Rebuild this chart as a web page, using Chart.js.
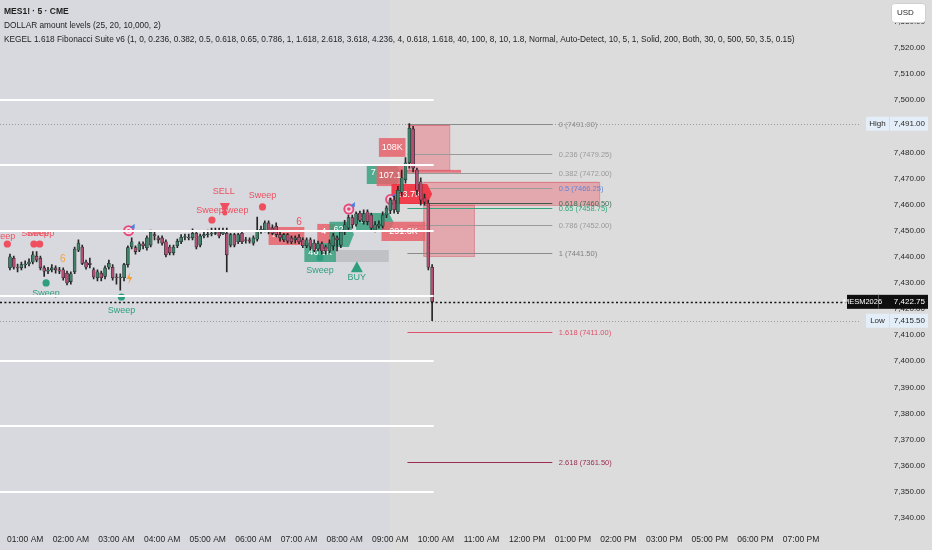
<!DOCTYPE html>
<html><head><meta charset="utf-8">
<script src="https://cdn.jsdelivr.net/npm/chart.js@4.4.1/dist/chart.umd.min.js"></script>
<style>html,body{margin:0;padding:0;background:#dcdcdc;overflow:hidden}</style>
</head><body>
<canvas id="c" width="932" height="550"></canvas>
<script>
// ---------------- DATA ----------------
const firstBarIndex = -4; // bar index of first candle (01:00 AM = 0, 5-minute bars)
const opens = [7435.75,7439.5,7436.0,7435.75,7437.0,7437.25,7438.0,7440.25,7439.5,7435.75,7434.5,7435.0,7435.75,7435.0,7435.0,7433.75,7430.5,7434.25,7442.5,7443.75,7438.0,7437.5,7435.0,7432.0,7433.75,7432.5,7436.0,7436.0,7432.25,7432.0,7432.0,7437.0,7443.75,7443.5,7442.5,7445.0,7443.5,7444.5,7448.5,7447.25,7447.25,7445.75,7443.75,7441.5,7444.25,7445.75,7447.5,7447.25,7447.25,7449.0,7444.5,7448.0,7448.5,7448.75,7449.0,7449.5,7448.75,7449.0,7444.5,7448.5,7445.75,7449.0,7446.5,7446.5,7445.25,7446.75,7450.25,7450.25,7453.0,7451.0,7451.75,7448.5,7446.5,7448.5,7447.25,7446.5,7447.5,7446.5,7444.25,7446.5,7445.25,7443.0,7445.0,7443.75,7442.25,7444.25,7447.25,7444.5,7449.5,7451.0,7455.0,7452.5,7456.75,7453.5,7457.25,7456.0,7450.25,7451.75,7451.75,7456.0,7457.75,7461.75,7457.25,7464.75,7469.5,7476.0,7489.0,7473.25,7468.75,7462.5,7460.5,7436.0];
const highs = [7441.0,7440.25,7437.25,7438.0,7438.5,7439.25,7442.0,7442.0,7440.25,7436.5,7436.0,7437.0,7436.5,7436.0,7435.75,7434.5,7434.25,7443.75,7446.5,7444.5,7438.75,7439.5,7435.75,7435.0,7434.5,7436.5,7438.75,7437.0,7433.5,7433.5,7437.5,7444.25,7447.25,7444.25,7445.75,7445.75,7448.0,7450.25,7449.5,7448.0,7448.0,7446.5,7444.5,7444.5,7446.75,7448.5,7448.75,7448.75,7450.75,7450.0,7448.75,7449.5,7450.25,7451.0,7451.0,7451.0,7451.0,7451.0,7449.0,7449.0,7449.0,7450.0,7447.5,7447.25,7448.0,7455.25,7451.75,7453.75,7453.75,7452.25,7453.0,7449.5,7449.0,7449.0,7448.0,7448.0,7448.5,7447.25,7447.25,7447.25,7446.5,7446.0,7445.75,7444.5,7446.5,7449.0,7448.0,7450.25,7454.0,7456.0,7456.0,7457.25,7457.5,7458.0,7458.0,7456.75,7453.5,7453.75,7457.25,7459.5,7462.5,7463.25,7467.0,7473.25,7478.0,7491.0,7490.0,7474.0,7470.25,7464.0,7461.75,7437.0];
const lows = [7435.0,7435.25,7434.25,7435.0,7435.75,7436.5,7437.25,7438.0,7435.0,7432.5,7433.5,7434.25,7433.75,7433.5,7431.0,7429.25,7429.5,7433.5,7442.0,7437.0,7435.25,7435.75,7431.5,7430.75,7430.75,7431.5,7435.25,7431.0,7429.5,7427.25,7430.75,7436.0,7443.0,7441.0,7442.0,7443.0,7442.5,7443.75,7446.5,7445.25,7444.5,7440.0,7440.75,7440.75,7443.5,7445.0,7446.5,7446.5,7446.5,7443.0,7443.75,7447.25,7447.5,7448.0,7448.5,7447.25,7448.5,7434.25,7443.75,7443.75,7445.0,7445.0,7445.25,7445.25,7444.5,7446.0,7449.0,7449.5,7448.75,7448.5,7447.5,7446.0,7445.75,7445.25,7445.0,7445.25,7445.0,7443.5,7443.5,7442.5,7442.0,7442.25,7441.0,7441.0,7441.5,7442.5,7442.25,7443.5,7448.5,7450.25,7451.0,7451.75,7453.5,7452.5,7452.25,7450.25,7449.5,7451.0,7451.0,7455.0,7456.5,7456.75,7456.5,7463.25,7468.25,7474.0,7472.5,7463.75,7459.75,7459.75,7435.0,7415.5];
const closes = [7440.0,7436.0,7435.75,7437.0,7437.25,7438.0,7440.75,7438.75,7435.75,7434.5,7435.0,7435.75,7435.0,7434.5,7432.0,7430.0,7433.5,7443.0,7445.25,7437.5,7436.0,7437.0,7432.25,7434.25,7432.0,7435.75,7437.5,7432.0,7432.0,7432.25,7437.0,7443.5,7445.75,7442.0,7445.0,7444.25,7447.25,7449.5,7448.0,7446.5,7445.25,7440.75,7441.5,7443.75,7446.0,7447.5,7447.75,7447.5,7449.0,7443.75,7448.0,7448.5,7448.75,7449.0,7449.25,7448.0,7449.5,7440.75,7448.5,7444.5,7448.5,7445.75,7446.25,7446.0,7447.25,7450.25,7450.5,7453.0,7449.5,7449.0,7448.5,7447.25,7448.5,7446.0,7445.75,7447.25,7445.75,7444.25,7446.5,7443.75,7442.5,7445.0,7442.25,7442.25,7445.25,7448.0,7446.5,7449.5,7452.25,7455.0,7452.25,7456.5,7454.0,7456.5,7453.5,7451.0,7452.25,7452.5,7456.0,7458.75,7461.75,7458.0,7465.5,7470.25,7476.0,7489.25,7474.0,7465.5,7461.75,7461.0,7436.0,7422.75];

const hourTickIdx = [0,12,24,36,48,60,72,84,96,108,120,132,144,156,168,180,192,204];
const hourLabels = ['01:00 AM','02:00 AM','03:00 AM','04:00 AM','05:00 AM','06:00 AM','07:00 AM','08:00 AM','09:00 AM','10:00 AM','11:00 AM','12:00 PM','01:00 PM','02:00 PM','03:00 PM','05:00 PM','06:00 PM','07:00 PM'];

const dollarLevels = [7500, 7475, 7450, 7425, 7400, 7375, 7350];
const lastPrice = 7422.75;
const sessionHigh = 7491.00;
const sessionLow = 7415.50;
const symbolName = 'MESM2026';
const sessionStartIdx = 96;

const fibRatios = ['0','0.236','0.382','0.5','0.618','0.65','0.786','1','1.618','2.618'];
const fibPrices = [7491.00, 7479.25, 7472.00, 7466.25, 7460.50, 7458.75, 7452.00, 7441.50, 7411.00, 7361.50];
const fibStartIdx = 100.5, fibEndIdx = 138.6, fibLabelIdx = 140.3;

// zones: [startIdx, endIdx, topPrice, bottomPrice]
const zoneBoxes = [[100.8,111.5,7490.5,7473.3],[104.7,150.9,7468.7,7459.9],[104.7,118.0,7459.9,7440.3]];
const zoneStrip = [100.3,114.6,7473.3,7472.2];
const grayBox = [81.2,95.6,7442.6,7438.0];

// volume tags
const tagTexts  = ['4','40.6K','4','62','7','7','107.1','108K','291.6K','93.7K'];
const tagStart  = [64.0,73.4,76.8,80.0,87.0,89.8,92.4,93.0,93.7,96.3];
const tagEnd    = [73.4,81.7,81.5,85.1,95.6,97.7,99.5,100.0,105.2,105.7];
const tagTop    = [7451.4,7445.3,7452.6,7453.4,7456.8,7475.2,7475.2,7485.5,7453.4,7467.9];
const tagBottom = [7444.5,7438.0,7445.3,7443.8,7449.5,7467.9,7467.1,7478.3,7446.1,7460.2];
const tagSide   = ['sell','buy','sell','buy','buy','buy','sell','sell','sell','strong'];

// signal markers
const markerKind  = ['text','dot','text','text','dot','dot','text','text','dot','text','dot','target','bolt','text','tri','text','text','dot','text','dot','text','target','target','dot','text','triup','text'];
const markerSide  = ['sell','sell','sell','sell','sell','sell','warn','buy','buy','buy','buy','x','x','sell','sell','sell','sell','sell','sell','sell','sell','x','x','buy','buy','buy','buy'];
const markerIdx   = [-6.2,-4.7,2.6,4.0,2.3,3.8,9.9,5.5,5.5,25.3,25.3,27.2,27.4,52.2,52.5,48.6,55.1,49.1,62.4,62.4,72.0,85.1,96.1,77.5,77.5,87.2,87.2];
const markerPrice = [7447.6,7444.9,7448.8,7448.8,7444.9,7444.9,7439.0,7425.8,7430.0,7419.6,7424.6,7450.0,7431.9,7464.9,7458.7,7457.9,7457.9,7454.1,7463.4,7459.1,7453.4,7458.3,7462.0,7439.6,7434.6,7436.0,7432.0];
const markerText  = ['Sweep','','Sweep','Sweep','','','6','Sweep','','Sweep','','','','SELL','','Sweep','Sweep','','Sweep','','6','','','','Sweep','','BUY'];

const titleLines = ['MES1! · 5 · CME','DOLLAR amount levels (25, 20, 10,000, 2)','KEGEL 1.618 Fibonacci Suite v6 (1, 0, 0.236, 0.382, 0.5, 0.618, 0.65, 0.786, 1, 1.618, 2.618, 3.618, 4.236, 4, 0.618, 1.618, 40, 100, 8, 10, 1.8, Normal, Auto-Detect, 10, 5, 1, Solid, 200, Both, 30, 0, 500, 50, 3.5, 0.15)'];

// ---------------- STYLE ----------------
const FONT = '"Liberation Sans", Arial, sans-serif';
const UP = '#3f8169', DOWN = '#b44d74';
const fibLineColors = ['#8a8a8a','#9a9a9a','#9a9a9a','#9a9a9a','#3b5a4a','#35a57a','#9a9a9a','#8a8a8a','#e0506a','#9b2d4f'];
const fibTextColors = ['#8d8d8d','#9a9a9a','#9a9a9a','#5e86d8','#3d7058','#35a57a','#9a9a9a','#808080','#e0506a','#9b2d4f'];
const sideColor = {sell:'#ef4f5f', buy:'#2f9e80', warn:'#f5a03a', strong:'#f23645'};
const tagFill = {sell:'rgba(232,98,108,0.85)', buy:'rgba(52,160,124,0.82)', strong:'rgba(242,54,69,0.95)'};

const bars = opens.map((o,k)=>firstBarIndex+k);
const bodyData = bars.map((x,k)=>({x, y:[opens[k], closes[k]===opens[k]?closes[k]+0.1:closes[k]]}));
const wickData = bars.map((x,k)=>({x, y:[lows[k], highs[k]]}));
const bodyColors = bars.map((x,k)=> closes[k]>=opens[k]?UP:DOWN);

const plotBottom = 528;
const pxPerPoint = 2.61;
const yMax = 7520 + 48/pxPerPoint;
const yMin = yMax - plotBottom/pxPerPoint;

function fmt(v){return v.toLocaleString('en-US',{minimumFractionDigits:2,maximumFractionDigits:2});}

const overlay = {
  id:'overlay',
  beforeDraw(chart){
    const {ctx, scales:{x}} = chart;
    ctx.save();
    ctx.fillStyle = '#dcdcdc';
    ctx.fillRect(0,0,chart.width,chart.height);
    ctx.fillStyle = '#d7d9de';
    ctx.fillRect(0,0,x.getPixelForValue(sessionStartIdx-0.3),chart.height);
    ctx.restore();
  },
  beforeDatasetsDraw(chart){
    const {ctx, chartArea:a, scales:{x,y}} = chart;
    const X=v=>x.getPixelForValue(v), Y=v=>y.getPixelForValue(v);
    ctx.save();
    ctx.setLineDash([1,2]); ctx.lineWidth=1; ctx.strokeStyle='#9a9a9a';
    [sessionHigh, sessionLow].forEach(v=>{ctx.beginPath();ctx.moveTo(0,Math.round(Y(v))+0.5);ctx.lineTo(a.right,Math.round(Y(v))+0.5);ctx.stroke();});
    ctx.setLineDash([]);
    zoneBoxes.forEach(z=>{
      const x0=X(z[0]),x1=X(z[1]),y0=Y(z[2]),y1=Y(z[3]);
      ctx.fillStyle='rgba(234,104,116,0.45)'; ctx.fillRect(x0,y0,x1-x0,y1-y0);
      ctx.strokeStyle='rgba(214,80,96,0.55)'; ctx.lineWidth=1; ctx.strokeRect(x0+0.5,y0+0.5,x1-x0,y1-y0);
    });
    ctx.fillStyle='rgba(228,86,98,0.75)';
    ctx.fillRect(X(zoneStrip[0]),Y(zoneStrip[2]),X(zoneStrip[1])-X(zoneStrip[0]),Y(zoneStrip[3])-Y(zoneStrip[2]));
    ctx.fillStyle='rgba(150,150,150,0.35)';
    ctx.fillRect(X(grayBox[0]),Y(grayBox[2]),X(grayBox[1])-X(grayBox[0]),Y(grayBox[3])-Y(grayBox[2]));
    fibPrices.forEach((p,k)=>{
      const yy=Math.round(Y(p))+0.5;
      ctx.strokeStyle=fibLineColors[k]; ctx.lineWidth=1;
      ctx.beginPath(); ctx.moveTo(X(fibStartIdx),yy); ctx.lineTo(X(fibEndIdx),yy); ctx.stroke();
      ctx.fillStyle=fibTextColors[k]; ctx.font='7.5px '+FONT; ctx.textAlign='left'; ctx.textBaseline='middle';
      ctx.fillText(fibRatios[k]+' ('+p.toFixed(2)+')', X(fibLabelIdx), yy);
    });
    tagTexts.forEach((t,k)=>{
      const x0=X(tagStart[k]),x1=X(tagEnd[k]),y0=Y(tagTop[k]),y1=Y(tagBottom[k]);
      ctx.fillStyle=tagFill[tagSide[k]];
      ctx.beginPath();
      const tip = (t==='7'||t==='93.7K'||t==='62')?5:0;
      ctx.moveTo(x0,y0); ctx.lineTo(x1,y0); ctx.lineTo(x1+tip,(y0+y1)/2); ctx.lineTo(x1,y1); ctx.lineTo(x0,y1); ctx.closePath(); ctx.fill();
      ctx.fillStyle='#ffffff'; ctx.font='9px '+FONT; ctx.textBaseline='middle';
      if(t.length<=2){ctx.textAlign='left'; ctx.fillText(t,x0+4,y0+8);}
      else {ctx.textAlign='center'; ctx.fillText(t,(x0+x1)/2,(y0+y1)/2);}
    });
    markerKind.forEach((kind,k)=>{
      const cx=X(markerIdx[k]), cy=Y(markerPrice[k]); const col=sideColor[markerSide[k]]||'#e0436a';
      ctx.textAlign='center'; ctx.textBaseline='middle';
      if(kind==='text'){ctx.fillStyle=col; ctx.font=(markerText[k].length<2?'10px ':'9px ')+FONT; ctx.fillText(markerText[k],cx,cy);}
      else if(kind==='dot'){ctx.fillStyle=col; ctx.beginPath(); ctx.arc(cx,cy,3.6,0,Math.PI*2); ctx.fill();}
      else if(kind==='tri'){ctx.fillStyle=col; ctx.beginPath(); ctx.moveTo(cx-5,cy-5); ctx.lineTo(cx+5,cy-5); ctx.lineTo(cx,cy+5); ctx.closePath(); ctx.fill();
        ctx.beginPath(); ctx.arc(cx,cy+5,2.5,0,Math.PI*2); ctx.fill();}
      else if(kind==='triup'){ctx.fillStyle=col; ctx.beginPath(); ctx.moveTo(cx-6,cy+5); ctx.lineTo(cx+6,cy+5); ctx.lineTo(cx,cy-6); ctx.closePath(); ctx.fill();}
      else if(kind==='target'){
        ctx.fillStyle='#e2487a'; ctx.beginPath(); ctx.arc(cx,cy,5.5,0,Math.PI*2); ctx.fill();
        ctx.fillStyle='#f7d6e0'; ctx.beginPath(); ctx.arc(cx,cy,3.6,0,Math.PI*2); ctx.fill();
        ctx.fillStyle='#e2487a'; ctx.beginPath(); ctx.arc(cx,cy,1.8,0,Math.PI*2); ctx.fill();
        ctx.fillStyle='#4a7fe0'; ctx.beginPath(); ctx.moveTo(cx+1,cy-3); ctx.lineTo(cx+6,cy-7); ctx.lineTo(cx+6,cy-2); ctx.closePath(); ctx.fill();
      }
      else if(kind==='bolt'){
        ctx.fillStyle='#f5a03a'; ctx.beginPath(); ctx.moveTo(cx+1,cy-6); ctx.lineTo(cx-3,cy+1); ctx.lineTo(cx,cy+1); ctx.lineTo(cx-1,cy+6); ctx.lineTo(cx+3,cy-1); ctx.lineTo(cx,cy-1); ctx.closePath(); ctx.fill();
      }
    });
    ctx.restore();
  },
  afterDatasetsDraw(chart){
    const {ctx, scales:{x,y}} = chart;
    const X=v=>x.getPixelForValue(v), Y=v=>y.getPixelForValue(v);
    ctx.save();
    const lastX = X(firstBarIndex+opens.length-1)+1.5;
    ctx.strokeStyle='#ffffff'; ctx.lineWidth=2;
    dollarLevels.forEach(v=>{const yy=Math.round(Y(v)); ctx.beginPath(); ctx.moveTo(0,yy); ctx.lineTo(lastX,yy); ctx.stroke();});
    const ly=Math.round(Y(lastPrice))+0.5;
    ctx.strokeStyle='#111'; ctx.lineWidth=1.6; ctx.setLineDash([2,2.4]);
    ctx.beginPath(); ctx.moveTo(0,ly); ctx.lineTo(847,ly); ctx.stroke(); ctx.setLineDash([]);
    ctx.restore();
  },
  afterDraw(chart){
    const {ctx, scales:{y}} = chart;
    const Y=v=>y.getPixelForValue(v);
    ctx.save();
    // y-axis tick labels from the scale's own ticks
    ctx.fillStyle='#262626'; ctx.font='8px '+FONT; ctx.textAlign='right'; ctx.textBaseline='middle';
    y.ticks.forEach(t=>{ ctx.fillText(fmt(t.value), 925, y.getPixelForValue(t.value)); });
    [[sessionHigh,'High'],[sessionLow,'Low']].forEach(([v,t])=>{
      const yy=Y(v);
      ctx.fillStyle='#e4eef8';
      ctx.fillRect(866,yy-7,23,14); ctx.fillRect(890,yy-7,38,14);
      ctx.fillStyle='#2a2a2a'; ctx.font='8px '+FONT; ctx.textBaseline='middle';
      ctx.textAlign='center'; ctx.fillText(t,877.5,yy);
      ctx.textAlign='right'; ctx.fillText(fmt(v),925,yy);
    });
    const ly=Y(lastPrice);
    ctx.fillStyle='#0e0e0e'; ctx.fillRect(847,ly-7,81,14);
    ctx.strokeStyle='#555'; ctx.lineWidth=1; ctx.beginPath(); ctx.moveTo(878.5,ly-7); ctx.lineTo(878.5,ly+7); ctx.stroke();
    ctx.fillStyle='#ffffff'; ctx.font='7.5px '+FONT; ctx.textBaseline='middle'; ctx.textAlign='center';
    ctx.fillText(symbolName,862.5,ly);
    ctx.font='8px '+FONT; ctx.textAlign='right'; ctx.fillText(fmt(lastPrice),925,ly);
    ctx.fillStyle='#ffffff'; ctx.strokeStyle='#cfcfcf';
    ctx.beginPath(); ctx.roundRect(891.5,3.5,34,19,3); ctx.fill(); ctx.stroke();
    ctx.fillStyle='#2a2a2a'; ctx.font='8px '+FONT; ctx.textAlign='left'; ctx.fillText('USD',897,13);
    ctx.textAlign='left'; ctx.fillStyle='#1e1e1e';
    ctx.font='bold 8.5px '+FONT; ctx.fillText(titleLines[0],4,12);
    ctx.font='8.3px '+FONT; ctx.fillText(titleLines[1],4,26); ctx.fillText(titleLines[2],4,40);
    ctx.restore();
  }
};

new Chart(document.getElementById('c'), {
  type:'bar',
  data:{datasets:[
    {label:'body', data:bodyData, backgroundColor:bodyColors, borderColor:'#1e2624', borderWidth:0.6, borderSkipped:false, barThickness:3, grouped:false},
    {label:'wick', data:wickData, backgroundColor:'#262626', barThickness:1, grouped:false}
  ]},
  options:{
    responsive:false, animation:false, devicePixelRatio:1,
    layout:{padding:0, autoPadding:false},
    plugins:{legend:{display:false}, tooltip:{enabled:false}},
    scales:{
      x:{type:'linear', min:-5, max:219.5, offset:false,
        afterBuildTicks(s){ s.ticks = hourTickIdx.map(v=>({value:v})); },
        ticks:{autoSkip:false, maxRotation:0, color:'#262626', font:{size:8.5, family:FONT}, padding:7, callback:(v,i)=>hourLabels[i]},
        grid:{display:false, drawTicks:false}, border:{display:false},
        afterFit(s){ s.height = 550-plotBottom; } },
      y:{type:'linear', position:'right', min:yMin, max:yMax,
        ticks:{stepSize:10, includeBounds:false, display:false, padding:0},
        grid:{display:false, drawTicks:false}, border:{display:false},
        afterFit(s){ s.width = 72; } }
    }
  },
  plugins:[overlay]
});
</script>
</body></html>
